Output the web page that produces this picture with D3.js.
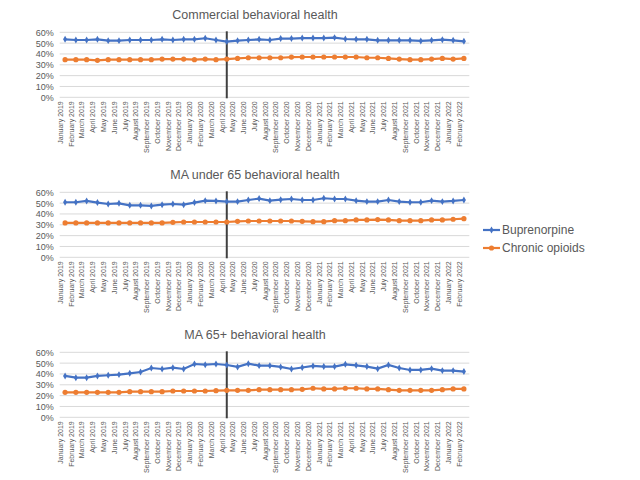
<!DOCTYPE html>
<html>
<head>
<meta charset="utf-8">
<script src="https://cdn.jsdelivr.net/npm/d3@7"></script>
<style>
  body { margin: 0; background: #fff; }
  svg { font-family: "Liberation Sans", Arial, sans-serif; }
</style>
</head>
<body>
<div id="chart"></div>
<script>
// months Jan 2019 .. Feb 2022
const months = [
  "January 2019", "February 2019", "March 2019", "April 2019", "May 2019", "June 2019",
  "July 2019", "August 2019", "September 2019", "October 2019", "November 2019", "December 2019",
  "January 2020", "February 2020", "March 2020", "April 2020", "May 2020", "June 2020",
  "July 2020", "August 2020", "September 2020", "October 2020", "November 2020", "December 2020",
  "January 2021", "February 2021", "March 2021", "April 2021", "May 2021", "June 2021",
  "July 2021", "August 2021", "September 2021", "October 2021", "November 2021", "December 2021",
  "January 2022", "February 2022"
];

const panelTitles = ["Commercial behavioral health", "MA under 65 behavioral health", "MA 65+ behavioral health"];
const seriesNames = ["Buprenorpine", "Chronic opioids"];
const yTicks = [0, 0.1, 0.2, 0.3, 0.4, 0.5, 0.6];
const markerMonth = "April 2020";

// values (share)
const commercialBup = [53.5, 52.9, 52.9, 53.5, 52.3, 52.3, 52.9, 52.9, 52.9, 53.5, 52.9, 53.5, 53.5, 54.5, 52.9, 51.4, 52.3, 52.9, 53.5, 52.9, 54.2, 54.2, 54.7, 54.7, 54.7, 55.1, 53.8, 53.5, 53.5, 52.6, 52.6, 52.6, 52.6, 52.0, 52.6, 53.2, 52.6, 51.7];
const commercialOpi = [34.7, 34.7, 34.7, 34.1, 34.7, 34.7, 34.7, 34.7, 34.7, 35.3, 35.3, 35.3, 34.7, 35.3, 34.7, 35.3, 35.9, 36.5, 36.5, 36.5, 36.5, 37.1, 37.2, 37.2, 37.2, 37.2, 37.2, 37.2, 36.5, 36.5, 35.9, 35.3, 34.7, 34.7, 35.3, 35.9, 35.3, 35.9];
const under65Bup = [50.8, 50.8, 52.0, 50.5, 49.2, 49.8, 48.0, 48.0, 47.4, 48.6, 49.2, 48.6, 50.5, 52.3, 52.0, 51.4, 51.4, 52.9, 54.2, 52.3, 53.2, 53.8, 52.9, 52.9, 54.5, 53.8, 53.8, 52.3, 51.4, 51.4, 52.9, 51.4, 50.8, 50.8, 52.3, 51.4, 52.0, 52.9];
const under65Opi = [31.7, 31.7, 31.7, 31.7, 31.7, 31.7, 31.7, 31.7, 31.7, 31.7, 32.3, 32.6, 32.6, 32.6, 32.6, 32.6, 33.2, 33.5, 33.5, 33.5, 33.5, 33.5, 33.2, 32.9, 32.9, 33.8, 33.8, 34.5, 34.5, 34.8, 34.5, 33.8, 33.8, 33.8, 34.5, 34.5, 35.1, 35.7];
const over65Bup = [38.2, 36.6, 36.6, 38.2, 38.8, 39.4, 40.6, 41.8, 45.5, 44.6, 45.8, 44.6, 49.2, 48.6, 49.2, 48.3, 46.5, 49.5, 47.7, 47.7, 46.5, 44.6, 46.0, 47.4, 46.8, 46.8, 48.9, 48.0, 46.8, 44.9, 48.3, 45.5, 43.7, 43.7, 44.9, 43.1, 43.1, 42.2];
const over65Opi = [23.1, 23.1, 23.1, 23.1, 23.1, 23.1, 23.7, 23.7, 23.7, 23.7, 24.3, 24.3, 24.3, 24.3, 24.6, 24.9, 24.9, 24.9, 25.5, 25.5, 25.5, 25.5, 25.8, 26.8, 26.2, 26.2, 26.8, 26.8, 26.2, 26.2, 25.5, 24.9, 24.9, 24.9, 24.9, 25.5, 26.2, 26.2];

const panelData = [
  [commercialBup, commercialOpi],
  [under65Bup, under65Opi],
  [over65Bup, over65Opi]
];

const colors = ["#4472C4", "#ED7D31"];
const textGray = "#595959";
const width = 640, height = 480;
const plotLeft = 59.7, plotRight = 469.3;
const panelTops = [32.3, 192.3, 352.3];
const panelHeight = 65;

const svg = d3.select("#chart").append("svg")
    .attr("width", width)
    .attr("height", height);

const x = d3.scaleBand()
    .domain(months)
    .range([plotLeft, plotRight]);

function drawMarker(g, s, px, py) {
    if (s === 0) {
        g.append("path")
            .attr("d", d3.symbol().type(d3.symbolDiamond).size(14)())
            .attr("transform", `translate(${px},${py})`)
            .attr("fill", colors[0]);
    } else {
        g.append("circle")
            .attr("cx", px).attr("cy", py).attr("r", 2.6)
            .attr("fill", colors[1]);
    }
}

panelData.forEach((series, p) => {
    const top = panelTops[p];
    const y = d3.scaleLinear()
        .domain([0, 0.6])
        .range([top + panelHeight, top]);

    const g = svg.append("g");

    // title
    g.append("text")
        .attr("x", 255)
        .attr("y", top - 13)
        .attr("text-anchor", "middle")
        .attr("font-size", 12.5)
        .attr("fill", textGray)
        .text(panelTitles[p]);

    // gridlines
    g.append("g")
        .selectAll("line")
        .data(yTicks)
        .join("line")
        .attr("x1", plotLeft).attr("x2", plotRight)
        .attr("y1", d => y(d)).attr("y2", d => y(d))
        .attr("stroke", "#d9d9d9")
        .attr("stroke-width", 1);

    // y axis
    const yAxis = g.append("g")
        .attr("transform", `translate(${plotLeft - 3},0)`)
        .attr("color", textGray)
        .call(d3.axisLeft(y).tickValues(yTicks).tickFormat(d3.format(".0%")).tickSize(0));
    yAxis.select(".domain").remove();
    yAxis.selectAll("text")
        .attr("font-size", 9)
        .attr("font-family", "Liberation Sans, Arial, sans-serif");

    // x axis
    const xAxis = g.append("g")
        .attr("transform", `translate(0,${top + panelHeight})`)
        .attr("color", textGray)
        .call(d3.axisBottom(x).tickSize(0));
    xAxis.select(".domain").remove();
    xAxis.selectAll(".tick text")
        .attr("font-size", 7)
        .attr("font-family", "Liberation Sans, Arial, sans-serif")
        .attr("fill", textGray)
        .attr("transform", "rotate(-90)")
        .attr("text-anchor", "end")
        .attr("dx", "-4")
        .attr("dy", "-0.32em")
        .attr("x", 0)
        .attr("y", 0);

    // vertical marker line
    const vx = x(markerMonth) + x.bandwidth() / 2;
    g.append("line")
        .attr("x1", vx).attr("x2", vx)
        .attr("y1", y(0.6) - 1).attr("y2", y(0) + 1)
        .attr("stroke", "#404040")
        .attr("stroke-width", 2);

    // series
    series.forEach((vals, s) => {
        const pts = vals.map((v, i) => [x(months[i]) + x.bandwidth() / 2, y(v / 100)]);
        g.append("path")
            .attr("d", d3.line()(pts))
            .attr("fill", "none")
            .attr("stroke", colors[s])
            .attr("stroke-width", 2.2);
        const mg = g.append("g");
        pts.forEach(pt => drawMarker(mg, s, pt[0], pt[1]));
    });
});

// legend
const legend = svg.append("g");
seriesNames.forEach((name, s) => {
    const ly = 230 + s * 18;
    legend.append("line")
        .attr("x1", 483).attr("x2", 500)
        .attr("y1", ly).attr("y2", ly)
        .attr("stroke", colors[s])
        .attr("stroke-width", 2.2);
    drawMarker(legend, s, 491.5, ly);
    legend.append("text")
        .attr("x", 502)
        .attr("y", ly + 4)
        .attr("font-size", 12)
        .attr("fill", textGray)
        .text(name);
});
</script>
</body>
</html>
